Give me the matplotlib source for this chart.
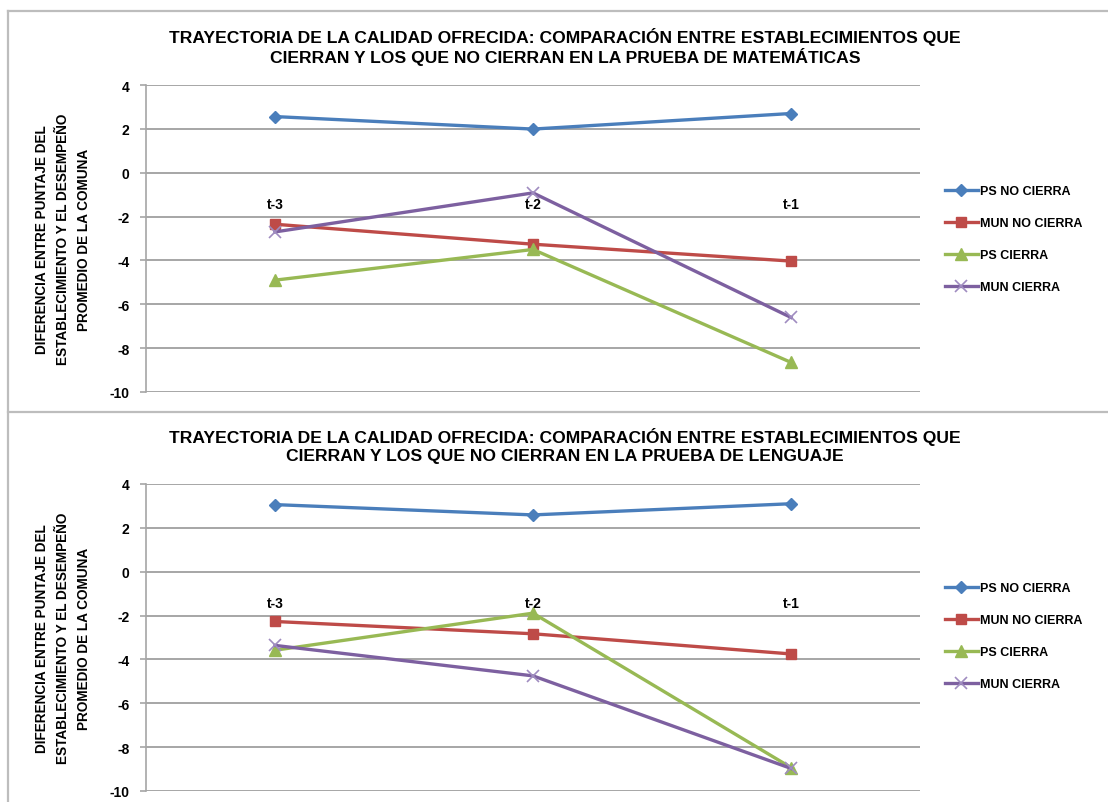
import matplotlib
matplotlib.use("Agg")
import matplotlib.pyplot as plt
from matplotlib.lines import Line2D

plt.rcParams['font.family'] = ['Liberation Sans', 'DejaVu Sans']

categories = ["t-3", "t-2", "t-1"]
series_names = ["PS NO CIERRA", "MUN NO CIERRA", "PS CIERRA", "MUN CIERRA"]

mat_ps_no_cierra = [2.56, 1.99, 2.70]
mat_mun_no_cierra = [-2.35, -3.26, -4.03]
mat_ps_cierra = [-4.90, -3.50, -8.65]
mat_mun_cierra = [-2.70, -0.92, -6.60]

len_ps_no_cierra = [3.06, 2.59, 3.10]
len_mun_no_cierra = [-2.27, -2.83, -3.75]
len_ps_cierra = [-3.58, -1.89, -8.93]
len_mun_cierra = [-3.36, -4.75, -8.97]

yticks = [4, 2, 0, -2, -4, -6, -8, -10]

title_mat = ("TRAYECTORIA DE LA CALIDAD OFRECIDA: COMPARACIÓN ENTRE ESTABLECIMIENTOS QUE\n"
             "CIERRAN Y LOS QUE NO CIERRAN EN LA PRUEBA DE MATEMÁTICAS")
title_len = ("TRAYECTORIA DE LA CALIDAD OFRECIDA: COMPARACIÓN ENTRE ESTABLECIMIENTOS QUE\n"
             "CIERRAN Y LOS QUE NO CIERRAN EN LA PRUEBA DE LENGUAJE")
ylabel = ("DIFERENCIA ENTRE PUNTAJE DEL\n"
          "ESTABLECIMIENTO Y EL DESEMPEÑO\n"
          "PROMEDIO DE LA COMUNA")

colors = ["#4A7EBB", "#BE4B48", "#98B954", "#7D60A0"]
markers = ["D", "s", "^", "x"]
msizes = [6.5, 7.5, 8, 8]

W, H = 1108, 803
fig = plt.figure(figsize=(W / 100, H / 100), dpi=100)
fig.patch.set_facecolor("white")

def px_axes(left, top, right, bottom):
    return fig.add_axes([left / W, 1 - bottom / H, (right - left) / W, (bottom - top) / H])

border_col = "#BDBDBD"
# panel borders
fig.add_artist(Line2D([8 / W, 1], [1 - 12 / H, 1 - 12 / H], color=border_col, lw=1.6))
fig.add_artist(Line2D([8 / W, 8 / W], [1 - 12 / H, 0], color=border_col, lw=1.6))
fig.add_artist(Line2D([8 / W, 1], [1 - 413 / H, 1 - 413 / H], color=border_col, lw=1.6))

panels = [
    (title_mat, [mat_ps_no_cierra, mat_mun_no_cierra, mat_ps_cierra, mat_mun_cierra], 86, 393, 47, 240),
    (title_len, [len_ps_no_cierra, len_mun_no_cierra, len_ps_cierra, len_mun_cierra], 485, 792, 446, 637),
]

x = list(range(len(categories)))
for title, data, top, bottom, title_y, leg_y in panels:
    ax = px_axes(146, top, 920, bottom)
    ax.set_xlim(-0.5, 2.5)
    ax.set_ylim(-10, 4)
    ax.set_yticks(yticks)
    ax.set_yticklabels([str(v) for v in yticks], fontsize=10, fontweight="bold")
    ax.set_xticks([])
    for s in ["top", "right", "bottom"]:
        ax.spines[s].set_visible(False)
    ax.spines["left"].set_color("#A6A6A6")
    ax.spines["left"].set_linewidth(1.2)
    ax.tick_params(axis="y", length=4, width=1.2, color="#A6A6A6", pad=8)
    ax.grid(axis="y", color="#A6A6A6", linewidth=1.4)
    ax.set_axisbelow(True)

    handles = []
    for name, vals, c, m, ms in zip(series_names, data, colors, markers, msizes):
        if m == "x":
            h, = ax.plot(x, vals, color=c, lw=2.4, marker=m, markersize=ms,
                         markeredgecolor="#9F8CC0", markeredgewidth=1.2, label=name,
                         clip_on=False)
        else:
            h, = ax.plot(x, vals, color=c, lw=2.4, marker=m, markersize=ms,
                         markeredgecolor=c, label=name, clip_on=False)
        handles.append(h)

    for xi, lab in zip(x, categories):
        ax.annotate(lab, (xi, 0), xytext=(0, -31), textcoords="offset pixels",
                    ha="center", va="center", fontsize=10, fontweight="bold")

    fig.text(565 / W, 1 - title_y / H, title, ha="center", va="center",
             fontsize=12.6, fontweight="bold", linespacing=1.2)

    fig.text(63 / W, 1 - ((top + bottom) / 2) / H, ylabel, rotation=90,
             ha="center", va="center", fontsize=9.8, fontweight="bold",
             multialignment="center", linespacing=1.6)

    ax.legend(handles=handles, loc="center left",
              bbox_to_anchor=(940 / W, 1 - leg_y / H),
              bbox_transform=fig.transFigure, frameon=False,
              prop={"size": 9, "weight": "bold"}, handlelength=2.6,
              handletextpad=0.2, labelspacing=1.6, borderaxespad=0)

fig.savefig("out.png", dpi=100, facecolor="white")
